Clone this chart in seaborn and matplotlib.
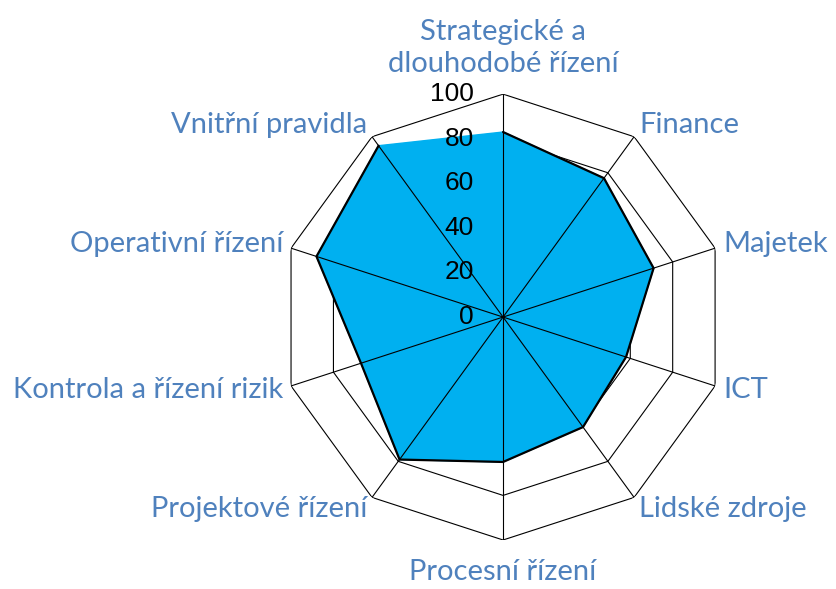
import numpy as np
import pandas as pd
import seaborn as sns
import matplotlib.pyplot as plt

# kategorie a hodnoty (odhad z obrazku)
kategorie = ['Strategické a\ndlouhodobé řízení', 'Finance', 'Majetek', 'ICT', 'Lidské zdroje',
             'Procesní řízení', 'Projektové řízení', 'Kontrola a řízení rizik',
             'Operativní řízení', 'Vnitřní pravidla']
hodnoty = [83, 77, 71, 58, 61, 65, 79, 67, 88, 95]
stupnice = [0, 20, 40, 60, 80, 100]

sns.set_style('white')
plt.rcParams['font.family'] = ['Lato', 'DejaVu Sans']

n = len(kategorie)
uhly = np.linspace(0, 2 * np.pi, n, endpoint=False)
uhly_z = np.append(uhly, uhly[0])
df = pd.DataFrame({'uhel': uhly_z, 'hodnota': hodnoty + hodnoty[:1]})

fig = plt.figure(figsize=(8.36, 5.89), dpi=100)
ax = fig.add_axes([0.335, 0.0832, 0.5335, 0.757], polar=True)
ax.set_theta_zero_location('N')
ax.set_theta_direction(-1)
ax.set_ylim(0, 100)
ax.grid(False)
ax.spines['polar'].set_visible(False)
ax.set_xticks([])
ax.set_yticks([])

# mrizka jako desetiuhelniky
for r in stupnice[1:]:
    ax.plot(uhly_z, [r] * (n + 1), color='black', lw=0.8, zorder=1)

# vypln a obrys
ax.fill(df['uhel'], df['hodnota'], color='#00B0F0', zorder=2)
sns.lineplot(data=df, x='uhel', y='hodnota', sort=False, color='black', lw=1.6, ax=ax, zorder=4)

# paprsky
for u in uhly:
    ax.plot([u, u], [0, 100], color='black', lw=0.8, zorder=3)

# popisky stupnice
for r in stupnice:
    ax.annotate(str(r), xy=(0, r), xytext=(-21, 0), textcoords='offset points',
                ha='right', va='center', fontsize=19, family='Liberation Sans', color='black')

# popisky kategorii
for u, k in zip(uhly, kategorie):
    s, c = np.sin(u), np.cos(u)
    if abs(s) < 0.01:
        ha = 'center'
    elif s > 0:
        ha = 'left'
    else:
        ha = 'right'
    if c > 0.99:
        va = 'bottom'
        dy = 12
    elif c < -0.99:
        va = 'top'
        dy = -14
    else:
        va = 'center'
        dy = 10 * c
    ax.annotate(k, xy=(u, 100), xytext=(6 * s, dy), textcoords='offset points',
                ha=ha, va=va, fontsize=21, color='#4F81BD', linespacing=1.3)

ax.set_xlabel('')
ax.set_ylabel('')
fig.savefig('out.png', dpi=100)
